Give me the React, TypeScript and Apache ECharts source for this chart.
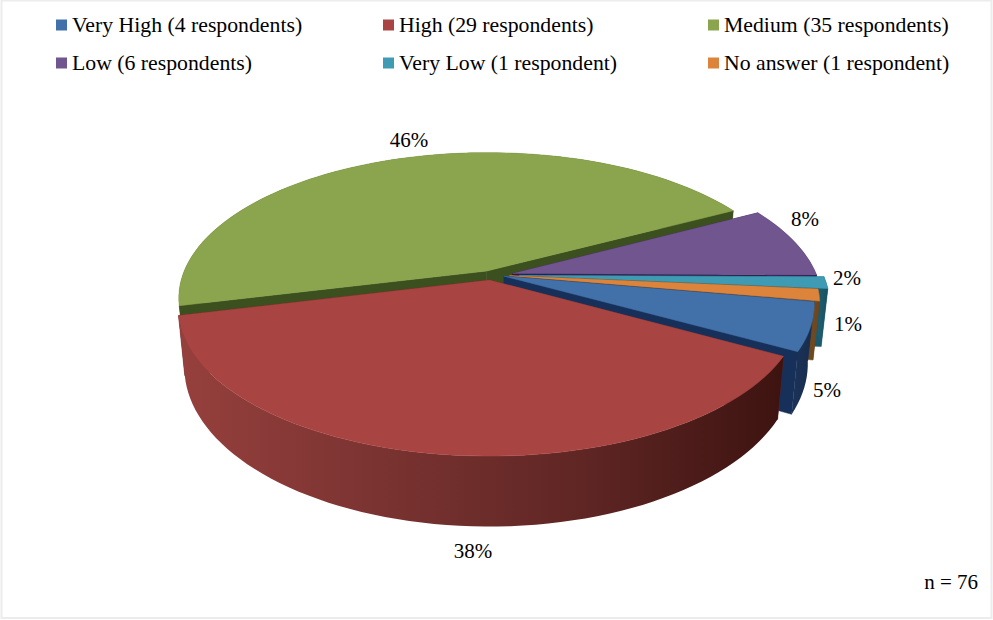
import React, { useEffect, useRef } from "react";
import * as echarts from "echarts";

const CATEGORIES = ["Very High", "High", "Medium", "Low", "Very Low", "No answer"];
const RESPONDENTS = [4, 29, 35, 6, 1, 1];
const RESPONDENT_NOUNS = ["respondents", "respondents", "respondents", "respondents", "respondent", "respondent"];
const PERCENT_LABELS = ["5%", "38%", "46%", "8%", "2%", "1%"];
const SAMPLE_NOTE = "n = 76";

const TOP_COLORS = ["#4270a8", "#a84442", "#8aa54d", "#71558f", "#3f9ab3", "#dd843c"];
const FACE_COLORS = ["#16305a", "#5b1f1d", "#3c4f1e", "#2a1848", "#1a5a6c", "#6b4a20"];
const WALL_STOPS: string[][] = [
  ["#1b3358", "#172c4e"],
  ["#96403d", "#7a3331", "#5f2624", "#3d1310"],
  ["#3c4f1e", "#3c4f1e"],
  ["#3c2a60", "#2a1848"],
  ["#1f5f72", "#1a5060"],
  ["#75491f", "#6b4420"],
];

// Back-to-front painting order of the slices.
const PAINT_ORDER = [2, 3, 4, 5, 0, 1];

// Projection of the tilted disc.
const CX = 492;
const CY = 275;
const RADIUS = 304;
const TILT = 0.4656;
const PERSPECTIVE = 0.184;
const FIRST_ANGLE = 100;
const WALL_DEPTH = 57;
const FLOOR_SCALE = 0.98;

// How far each slice is pulled out of the disc, and the foreshortening of that pull.
const SLICE_PULL = [0.042, 0.06, 0.05, 0.07, 0.09, 0.058];
const PULL_DEPTH = 0.6;

const LABEL_POS: [number, number][] = [
  [827, 390],
  [473, 551],
  [409, 140],
  [805, 219],
  [847, 278],
  [848, 324],
];

const LEGEND_POS: [number, number][] = [
  [56, 14],
  [383, 14],
  [708, 14],
  [56, 52],
  [383, 52],
  [708, 52],
];

const FONT = "'Liberation Serif', 'Times New Roman', serif";
const TOTAL = RESPONDENTS.reduce((a, b) => a + b, 0);

function legendName(i: number) {
  return `${CATEGORIES[i]} (${RESPONDENTS[i]} ${RESPONDENT_NOUNS[i]})`;
}

// Maps a point of the unit disc to the page; z = 1 gives the floor of the wall.
function project(X: number, Y: number, z: number): [number, number] {
  const s = 1 / (1 - PERSPECTIVE * Y);
  const px = X * RADIUS * s;
  const py = Y * RADIUS * TILT * s;
  if (!z) return [CX + px, CY + py];
  return [CX + px * FLOOR_SCALE, CY + py + WALL_DEPTH * s];
}

function sliceItem(i: number, value: number) {
  const before = RESPONDENTS.slice(0, i).reduce((a, b) => a + b, 0);
  const a0 = FIRST_ANGLE + (before / TOTAL) * 360;
  const a1 = a0 + (value / TOTAL) * 360;
  const mid = ((a0 + a1) / 2) * (Math.PI / 180);
  const ox = Math.sin(mid) * SLICE_PULL[i];
  const oy = -Math.cos(mid) * SLICE_PULL[i] * PULL_DEPTH;

  const steps = Math.max(8, Math.ceil((a1 - a0) / 2));
  const arc: [number, number][] = [];
  for (let k = 0; k <= steps; k++) {
    const t = ((a0 + ((a1 - a0) * k) / steps) * Math.PI) / 180;
    arc.push([ox + Math.sin(t), oy - Math.cos(t)]);
  }
  const topArc = arc.map(([x, y]) => project(x, y, 0));
  const floorArc = arc.map(([x, y]) => project(x, y, 1));
  const apexTop = project(ox, oy, 0);
  const apexFloor = project(ox, oy, 1);

  const stops = WALL_STOPS[i];
  const wallFill = {
    type: "linear",
    x: 0,
    y: 0,
    x2: 1,
    y2: 0,
    colorStops: stops.map((color, n) => ({ offset: n / (stops.length - 1), color })),
  };
  const face = (p: [number, number], q: [number, number]) => ({
    type: "polygon",
    shape: { points: [apexTop, p, q, apexFloor] },
    style: { fill: FACE_COLORS[i], stroke: FACE_COLORS[i], lineWidth: 0.5 },
  });

  return {
    type: "group",
    children: [
      face(topArc[0], floorArc[0]),
      face(topArc[steps], floorArc[steps]),
      {
        type: "polygon",
        shape: { points: [...topArc, ...floorArc.slice().reverse()] },
        style: { fill: wallFill },
      },
      {
        type: "polygon",
        shape: { points: [apexTop, ...topArc] },
        style: { fill: TOP_COLORS[i], stroke: TOP_COLORS[i], lineWidth: 0.5 },
      },
    ],
  };
}

export default function App() {
  const ref = useRef<HTMLDivElement>(null);

  useEffect(() => {
    document.body.style.margin = "0";
    const chart = echarts.init(ref.current!, undefined, { renderer: "svg" });
    chart.setOption({
      animation: false,
      backgroundColor: "#ffffff",
      legend: CATEGORIES.map((_, i) => ({
        data: [legendName(i)],
        left: LEGEND_POS[i][0],
        top: LEGEND_POS[i][1],
        padding: 0,
        icon: "rect",
        itemWidth: 11,
        itemHeight: 11,
        selectedMode: false,
        textStyle: { fontFamily: FONT, fontSize: 21.75, color: "#000000" },
      })),
      series: PAINT_ORDER.map((i, order) => ({
        type: "custom",
        name: legendName(i),
        coordinateSystem: "none",
        silent: true,
        z: 2 + order,
        itemStyle: { color: TOP_COLORS[i] },
        data: [[RESPONDENTS[i]]],
        renderItem: (_params: unknown, api: any) => sliceItem(i, api.value(0)),
      })),
      graphic: [
        {
          type: "rect",
          z: 0,
          silent: true,
          shape: { x: 1.5, y: 0.5, width: 990, height: 617.5 },
          style: { fill: "none", stroke: "#ececec", lineWidth: 2 },
        },
        ...PERCENT_LABELS.map((text, i) => ({
          type: "text",
          z: 50,
          x: LABEL_POS[i][0],
          y: LABEL_POS[i][1],
          style: { text, fontFamily: FONT, fontSize: 21, fill: "#000000", align: "center", verticalAlign: "middle" },
        })),
        {
          type: "text",
          z: 50,
          x: 978,
          y: 582,
          style: { text: SAMPLE_NOTE, fontFamily: FONT, fontSize: 21, fill: "#000000", align: "right", verticalAlign: "middle" },
        },
      ],
    });
    return () => chart.dispose();
  }, []);

  return <div ref={ref} style={{ width: 993, height: 620 }} />;
}
